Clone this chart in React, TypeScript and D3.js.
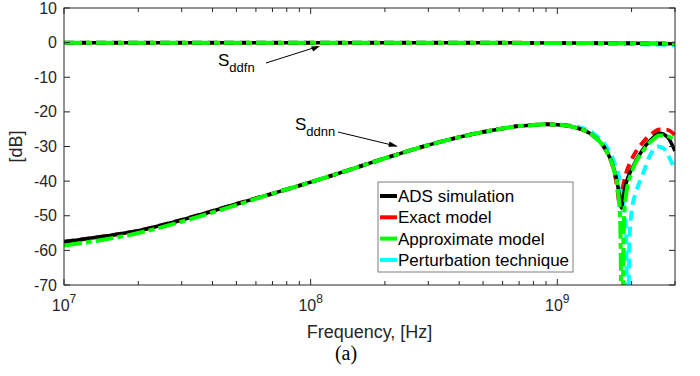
import * as d3 from 'd3';

// ---- data ----
const xTicksMajor = [1e7, 1e8, 1e9];
const xExponents = ['7', '8', '9'];
const yTicks = [10, 0, -10, -20, -30, -40, -50, -60, -70];

// S_ddfn (through-path), nearly flat at 0 dB
const fnFreq = [1e7, 1e8, 5e8, 1e9, 2e9, 3e9];
const fnAds = [0, 0, -0.05, -0.1, -0.2, -0.35];
const fnExact = [0, 0, -0.05, -0.1, -0.2, -0.3];
const fnApprox = [0, 0, -0.05, -0.1, -0.2, -0.35];
const fnPert = [0, 0, -0.05, -0.15, -0.4, -0.7];

// S_ddnn
const nnFreqCommon = [1e7, 1.5e7, 2e7, 3e7, 5e7, 7e7, 1e8, 1.5e8, 2e8, 3e8, 4e8, 5e8, 6e8, 7e8, 8e8, 9e8, 1e9, 1.1e9, 1.2e9, 1.3e9, 1.4e9, 1.5e9];
const nnCommon = [-57.5, -55.8, -54.3, -51.2, -46.6, -43.6, -40.3, -36.3, -33.4, -29.6, -27.3, -25.8, -24.8, -24.1, -23.8, -23.6, -23.7, -24.0, -24.6, -25.5, -26.9, -28.9];
const nnApproxLow = [-58.6, -56.7, -55.0, -51.7, -46.9];
const nnPertShift = [0.2, 0.3, 0.5, 0.7, 0.9];

const adsTailFreq = [1.6e9, 1.7e9, 1.75e9, 1.8e9, 1.82e9, 1.85e9, 1.9e9, 2.0e9, 2.2e9, 2.4e9, 2.6e9, 2.8e9, 3.0e9];
const adsTail = [-31.9, -36.6, -40.5, -46.0, -47.8, -44.5, -40.6, -36.6, -31.3, -28.0, -26.2, -27.3, -31.3];

const exactTailFreq = [1.6e9, 1.7e9, 1.75e9, 1.79e9, 1.83e9, 1.9e9, 2.0e9, 2.2e9, 2.4e9, 2.6e9, 2.8e9, 3.0e9];
const exactTail = [-32.0, -37.2, -42.0, -47.0, -43.0, -37.8, -33.8, -29.2, -26.5, -25.1, -25.2, -26.8];

const approxTailFreq = [1.6e9, 1.7e9, 1.76e9, 1.8e9, 1.83e9, 1.86e9, 1.9e9, 2.0e9, 2.2e9, 2.4e9, 2.6e9, 2.8e9, 3.0e9];
const approxTail = [-32.0, -37.0, -42.5, -52.0, -95, -52.0, -44.0, -37.5, -31.8, -28.5, -26.8, -27.0, -28.3];

const pertTailFreq = [1.6e9, 1.7e9, 1.8e9, 1.86e9, 1.9e9, 1.93e9, 1.96e9, 2.0e9, 2.1e9, 2.2e9, 2.4e9, 2.55e9, 2.7e9, 2.85e9, 3.0e9];
const pertTail = [-30.6, -34.5, -40.5, -47.0, -55.0, -95, -57.0, -49.0, -42.5, -38.8, -32.0, -30.0, -30.6, -33.3, -37.0];

const legendLabels = ['ADS simulation', 'Exact model', 'Approximate model', 'Perturbation technique'];
const legendColors = ['#000000', '#ff0000', '#00ff00', '#00ffff'];

type Pt = [number, number];
const zip = (f: number[], v: number[]): Pt[] => f.map((d, i) => [d, v[i]]);

const W = 700;
const H = 376;
const m = { left: 64, top: 8, right: 25, bottom: 91 };
const iw = W - m.left - m.right;
const ih = H - m.top - m.bottom;

const x = d3.scaleLog().domain([1e7, 3e9]).range([0, iw]);
const y = d3.scaleLinear().domain([-70, 10]).range([ih, 0]);

const line = d3.line<Pt>().x(d => x(d[0])).y(d => y(d[1])).curve(d3.curveMonotoneX);

// drawing order: cyan and red underneath, black, green on top
const series = [
  {
    key: 'pert', color: '#00ffff', width: 4, dash: '10,6',
    fn: zip(fnFreq, fnPert),
    nn: [...zip(nnFreqCommon, nnCommon.map((v, i) => i >= 17 ? v + nnPertShift[i - 17] : v)), ...zip(pertTailFreq, pertTail)],
  },
  {
    key: 'exact', color: '#ff0000', width: 4, dash: '10,6',
    fn: zip(fnFreq, fnExact),
    nn: [...zip(nnFreqCommon, nnCommon), ...zip(exactTailFreq, exactTail)],
  },
  {
    key: 'ads', color: '#000000', width: 3.5, dash: null,
    fn: zip(fnFreq, fnAds),
    nn: [...zip(nnFreqCommon, nnCommon), ...zip(adsTailFreq, adsTail)],
  },
  {
    key: 'approx', color: '#00ff00', width: 4, dash: '18,4,6,4',
    fn: zip(fnFreq, fnApprox),
    nn: [...zip(nnFreqCommon, nnCommon.map((v, i) => i < nnApproxLow.length ? nnApproxLow[i] : v)), ...zip(approxTailFreq, approxTail)],
  },
];

const font = '"Liberation Sans", Arial, sans-serif';
const axisColor = '#262626';

function minorTicks(): number[] {
  const out: number[] = [];
  for (let e = 7; e <= 9; e++) {
    for (let k = 2; k <= 9; k++) {
      const v = k * Math.pow(10, e);
      if (v <= 3e9) out.push(v);
    }
  }
  return out;
}

export default function App() {
  const minors = minorTicks();
  return (
    <svg width={W} height={H} style={{ position: 'absolute', left: 0, top: 0, background: '#fff' }}>
      <defs>
        <clipPath id="plotClip">
          <rect x={0} y={0} width={iw} height={ih} />
        </clipPath>
      </defs>
      <g transform={`translate(${m.left},${m.top})`}>
        <g clipPath="url(#plotClip)">
          {series.map(s => (
            <g key={s.key}>
              <path d={line(s.fn) || ''} fill="none" stroke={s.color} strokeWidth={s.width}
                strokeDasharray={s.dash || undefined} />
              <path d={line(s.nn) || ''} fill="none" stroke={s.color} strokeWidth={s.width}
                strokeDasharray={s.dash || undefined} />
            </g>
          ))}
        </g>

        {/* box */}
        <rect x={0} y={0} width={iw} height={ih} fill="none" stroke={axisColor} strokeWidth={1} />

        {/* y ticks */}
        {yTicks.map(t => (
          <g key={t}>
            <line x1={0} x2={6} y1={y(t)} y2={y(t)} stroke={axisColor} />
            <line x1={iw - 6} x2={iw} y1={y(t)} y2={y(t)} stroke={axisColor} />
            <text x={-7} y={y(t)} dy="0.35em" textAnchor="end" fontFamily={font} fontSize={16} fill={axisColor}>{t}</text>
          </g>
        ))}

        {/* x ticks */}
        {xTicksMajor.map((t, i) => (
          <g key={t}>
            <line x1={x(t)} x2={x(t)} y1={ih} y2={ih - 6} stroke={axisColor} />
            <line x1={x(t)} x2={x(t)} y1={0} y2={6} stroke={axisColor} />
            <text x={x(t)} y={ih + 26} textAnchor="middle" fontFamily={font} fontSize={16} fill={axisColor}>
              10<tspan dy={-8} fontSize={12}>{xExponents[i]}</tspan>
            </text>
          </g>
        ))}
        {minors.map(t => (
          <g key={t}>
            <line x1={x(t)} x2={x(t)} y1={ih} y2={ih - 4} stroke={axisColor} />
            <line x1={x(t)} x2={x(t)} y1={0} y2={4} stroke={axisColor} />
          </g>
        ))}

        {/* axis labels */}
        <text x={iw / 2} y={ih + 53} textAnchor="middle" fontFamily={font} fontSize={18} fill={axisColor}>Frequency, [Hz]</text>
        <text transform={`translate(${-42},${ih / 2}) rotate(-90)`} textAnchor="middle" fontFamily={font} fontSize={18} fill={axisColor}>[dB]</text>

        {/* annotations */}
        <text x={218 - m.left} y={66 - m.top} fontFamily={font} fontSize={17} fill="#000">
          S<tspan dy={6} fontSize={13}>ddfn</tspan>
        </text>
        <line x1={266 - m.left} y1={63 - m.top} x2={318 - m.left} y2={46.5 - m.top} stroke="#000" strokeWidth={1} />
        <path d={`M${320 - m.left},${46 - m.top} l-9,0.5 l2.2,5 z`} fill="#000" />

        <text x={295 - m.left} y={130 - m.top} fontFamily={font} fontSize={17} fill="#000">
          S<tspan dy={6} fontSize={13}>ddnn</tspan>
        </text>
        <line x1={338 - m.left} y1={132 - m.top} x2={396 - m.left} y2={146 - m.top} stroke="#000" strokeWidth={1} />
        <path d={`M${398 - m.left},${146.5 - m.top} l-8.5,-5 l-1.2,5.2 z`} fill="#000" />

        {/* legend */}
        <g transform={`translate(${378 - m.left},${182 - m.top})`}>
          <rect x={0} y={0} width={195} height={90} fill="#fff" stroke="#7f7f7f" strokeWidth={1} />
          {legendLabels.map((l, i) => (
            <g key={l} transform={`translate(0,${14 + i * 21.3})`}>
              <line x1={2} x2={19} y1={0} y2={0} stroke={legendColors[i]} strokeWidth={4} />
              <text x={20} y={0} dy="0.36em" fontFamily={font} fontSize={17} fill="#000">{l}</text>
            </g>
          ))}
        </g>
      </g>
      <text x={346} y={360} textAnchor="middle" fontFamily='"Liberation Serif", "Times New Roman", serif' fontSize={20} fill="#000">(a)</text>
    </svg>
  );
}
